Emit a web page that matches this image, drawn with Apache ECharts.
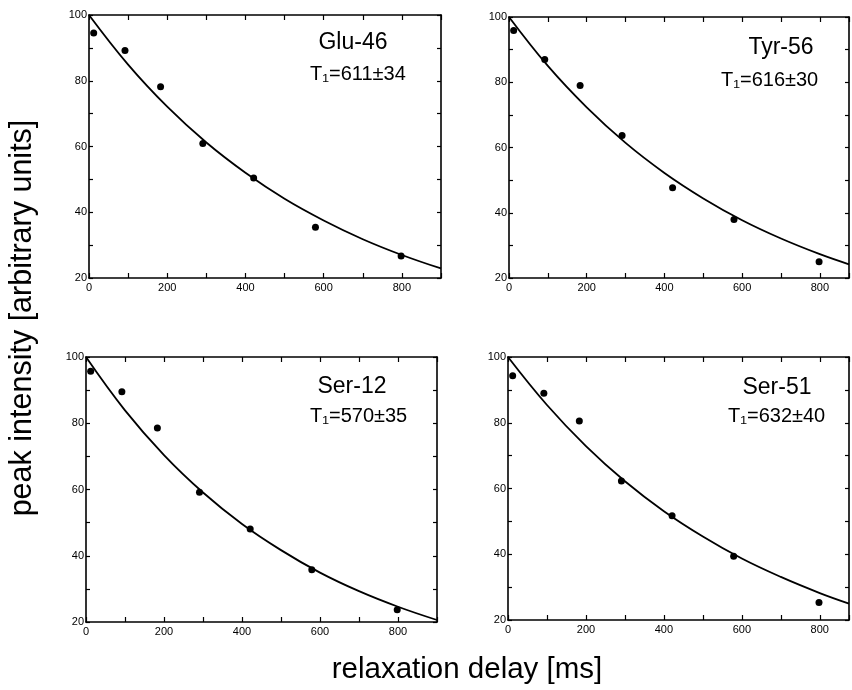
<!DOCTYPE html>
<html>
<head>
<meta charset="utf-8">
<script src="https://cdn.jsdelivr.net/npm/echarts@6/dist/echarts.min.js"></script>
<style>
html,body{margin:0;padding:0;background:#fff;}
#chart{width:852px;height:690px;}
</style>
</head>
<body>
<div id="chart"></div>
<script>
// ---- data ----
const delays = [12, 92, 183, 291, 421, 579, 798];
const gluY   = [94.5, 89.2, 78.2, 60.9, 50.4, 35.4, 26.7];
const tyrY   = [95.9, 87.0, 79.0, 63.7, 47.7, 37.9, 25.0];
const ser12Y = [95.7, 89.5, 78.6, 59.2, 48.1, 35.8, 23.7];
const ser51Y = [94.3, 89.0, 80.5, 62.3, 51.7, 39.4, 25.3];

const fitXLeft  = [0, 100, 200, 300, 400, 500, 600, 700, 800, 900];
const fitXRight = [0, 100, 200, 300, 400, 500, 600, 700, 800, 875];
const gluFit   = [100, 84.9, 72.1, 61.2, 52.0, 44.1, 37.5, 31.8, 27.0, 22.9];
const tyrFit   = [100, 85.0, 72.3, 61.4, 52.2, 44.4, 37.7, 32.1, 27.3, 24.2];
const ser12Fit = [100, 83.9, 70.4, 59.1, 49.6, 41.7, 34.9, 29.3, 24.6, 20.6];
const ser51Fit = [100, 85.4, 72.9, 62.2, 53.1, 45.4, 38.7, 33.1, 28.2, 25.0];

const panelNames = ['Glu-46', 'Tyr-56', 'Ser-12', 'Ser-51'];
const panelT1 = ['T\u2081=611\u00b134', 'T\u2081=616\u00b130', 'T\u2081=570\u00b135', 'T\u2081=632\u00b140'];
const xTickLabels = [0, 200, 400, 600, 800];
const yTickLabels = [20, 40, 60, 80, 100];
const yTitle = 'peak intensity [arbitrary units]';
const xTitle = 'relaxation delay [ms]';

// ---- layout ----
const FONT = '"Liberation Sans", Arial, Helvetica, sans-serif';
const panels = [
  {left: 89,  top: 15,  width: 352, height: 263, xmax: 900, pts: gluY,   fx: fitXLeft,  fy: gluFit,   nameX: 353, nameY: 54, t1X: 310, t1Y: 84},
  {left: 509, top: 17,  width: 342, height: 261, xmax: 875, pts: tyrY,   fx: fitXRight, fy: tyrFit,   nameX: 781, nameY: 59, t1X: 721, t1Y: 90},
  {left: 86,  top: 357, width: 351, height: 265, xmax: 900, pts: ser12Y, fx: fitXLeft,  fy: ser12Fit, nameX: 352, nameY: 398, t1X: 310, t1Y: 426},
  {left: 508, top: 357, width: 343, height: 263, xmax: 875, pts: ser51Y, fx: fitXRight, fy: ser51Fit, nameX: 777, nameY: 399, t1X: 728, t1Y: 426}
];

const grids = [], xAxes = [], yAxes = [], series = [], graphics = [];
const lineStyle = {color: '#000', width: 1.6};

panels.forEach((p, i) => {
  grids.push({left: p.left, top: p.top, width: p.width, height: p.height, containLabel: false});
  const xBase = {
    type: 'value', gridIndex: i, min: 0, max: p.xmax, interval: 100,
    splitLine: {show: false},
    axisLine: {show: true, onZero: false, lineStyle: lineStyle},
    axisTick: {show: true, inside: true, length: 5, lineStyle: {color: '#000', width: 1.2}}
  };
  xAxes.push(Object.assign({}, xBase, {
    position: 'bottom',
    axisLabel: {show: true, color: '#000', fontFamily: FONT, fontSize: 11, margin: 4,
      formatter: v => xTickLabels.indexOf(v) >= 0 ? String(v) : ''}
  }));
  xAxes.push(Object.assign({}, xBase, {position: 'top', axisLabel: {show: false}}));
  const yBase = {
    type: 'value', gridIndex: i, min: 20, max: 100, interval: 10,
    splitLine: {show: false},
    axisLine: {show: true, onZero: false, lineStyle: lineStyle},
    axisTick: {show: true, inside: true, length: 4, lineStyle: {color: '#000', width: 1.2}}
  };
  yAxes.push(Object.assign({}, yBase, {
    position: 'left',
    axisLabel: {show: true, color: '#000', fontFamily: FONT, fontSize: 11, margin: 2,
      formatter: v => yTickLabels.indexOf(v) >= 0 ? String(v) : ''}
  }));
  yAxes.push(Object.assign({}, yBase, {position: 'right', axisLabel: {show: false}}));

  series.push({
    type: 'line', xAxisIndex: 2 * i, yAxisIndex: 2 * i,
    data: p.fx.map((x, k) => [x, p.fy[k]]),
    smooth: 0.4, showSymbol: false, symbol: 'none',
    lineStyle: {color: '#000', width: 1.8}, silent: true, animation: false
  });
  series.push({
    type: 'scatter', xAxisIndex: 2 * i, yAxisIndex: 2 * i,
    data: delays.map((x, k) => [x, p.pts[k]]),
    symbol: 'circle', symbolSize: 7,
    itemStyle: {color: '#000', opacity: 1}, silent: true, animation: false
  });

  graphics.push({
    type: 'text', z: 10,
    style: {text: panelNames[i], fill: '#000', font: '23px ' + FONT, textAlign: 'center', textVerticalAlign: 'bottom'},
    position: [p.nameX, p.nameY]
  });
  graphics.push({
    type: 'text', z: 10,
    style: {text: panelT1[i], fill: '#000', font: '20px ' + FONT, textAlign: 'left', textVerticalAlign: 'bottom'},
    position: [p.t1X, p.t1Y]
  });
});

graphics.push({
  type: 'text', z: 10, rotation: Math.PI / 2,
  position: [23, 318],
  style: {text: yTitle, fill: '#000', font: '30.5px ' + FONT, textAlign: 'center', textVerticalAlign: 'middle'}
});
graphics.push({
  type: 'text', z: 10,
  position: [467, 670],
  style: {text: xTitle, fill: '#000', font: '29.5px ' + FONT, textAlign: 'center', textVerticalAlign: 'middle'}
});

const chart = echarts.init(document.getElementById('chart'), null, {renderer: 'canvas'});
chart.setOption({
  animation: false,
  backgroundColor: '#fff',
  grid: grids,
  xAxis: xAxes,
  yAxis: yAxes,
  series: series,
  graphic: graphics
});
</script>
</body>
</html>
